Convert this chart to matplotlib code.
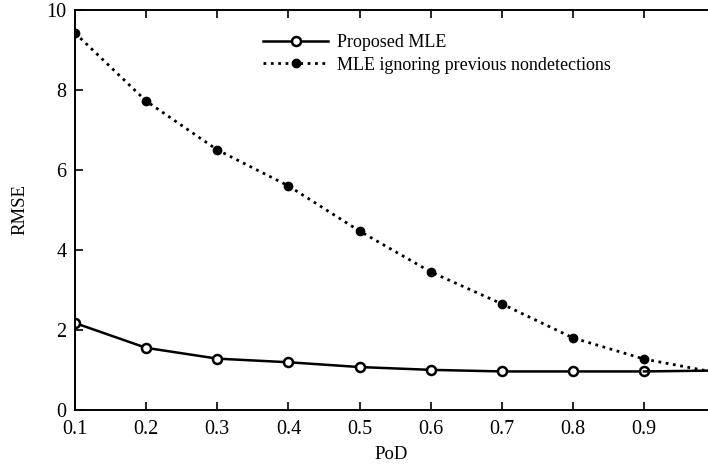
import matplotlib
matplotlib.use("Agg")
import matplotlib.pyplot as plt

# data
pod = [0.1, 0.2, 0.3, 0.4, 0.5, 0.6, 0.7, 0.8, 0.9, 0.99]
rmse_proposed = [2.17, 1.55, 1.28, 1.19, 1.07, 1.00, 0.96, 0.96, 0.96, 0.98]
rmse_ignoring = [9.42, 7.72, 6.50, 5.60, 4.47, 3.45, 2.65, 1.80, 1.27, 0.97]
xticks = [0.1, 0.2, 0.3, 0.4, 0.5, 0.6, 0.7, 0.8, 0.9]
yticks = [0, 2, 4, 6, 8, 10]

plt.rcParams["font.family"] = ["Liberation Serif", "DejaVu Serif"]
plt.rcParams["font.size"] = 13

fig = plt.figure(figsize=(7.08, 4.70), dpi=100)
ax = fig.add_axes([0.106, 0.128, 0.894, 0.851])

ax.plot(pod[:-1], rmse_proposed[:-1], color="black", linestyle="-", linewidth=1.8,
        marker="o", markersize=6.5, markerfacecolor="white", markeredgewidth=1.8,
        label="Proposed MLE")
ax.plot(pod[-2:], rmse_proposed[-2:], color="black", linestyle="-", linewidth=1.8)
ax.plot(pod[:-1], rmse_ignoring[:-1], color="black", linestyle=":", linewidth=2,
        marker="o", markersize=6, label="MLE ignoring previous nondetections")
ax.plot(pod[-2:], rmse_ignoring[-2:], color="black", linestyle=":", linewidth=2)

ax.set_xlim(0.1, 0.99)
ax.set_ylim(0, 10)
ax.set_xticks(xticks)
ax.set_xticklabels([str(t) for t in xticks])
ax.set_yticks(yticks)
ax.tick_params(direction="in", top=True, right=False, length=6, width=1.2,
               labelsize=14.5)
ax.tick_params(axis="x", pad=7)
ax.tick_params(axis="y", pad=6)
for s in ax.spines.values():
    s.set_linewidth(1.4)
ax.spines["right"].set_visible(False)

ax.set_xlabel("PoD", fontsize=13.5, labelpad=5)
ax.set_ylabel("RMSE", fontsize=13.5, labelpad=13)

ax.legend(loc="upper left", bbox_to_anchor=(0.272, 0.98), frameon=False,
          fontsize=13, handlelength=3.6, handletextpad=0.45, labelspacing=0.3)

fig.savefig("out.png", dpi=100)
